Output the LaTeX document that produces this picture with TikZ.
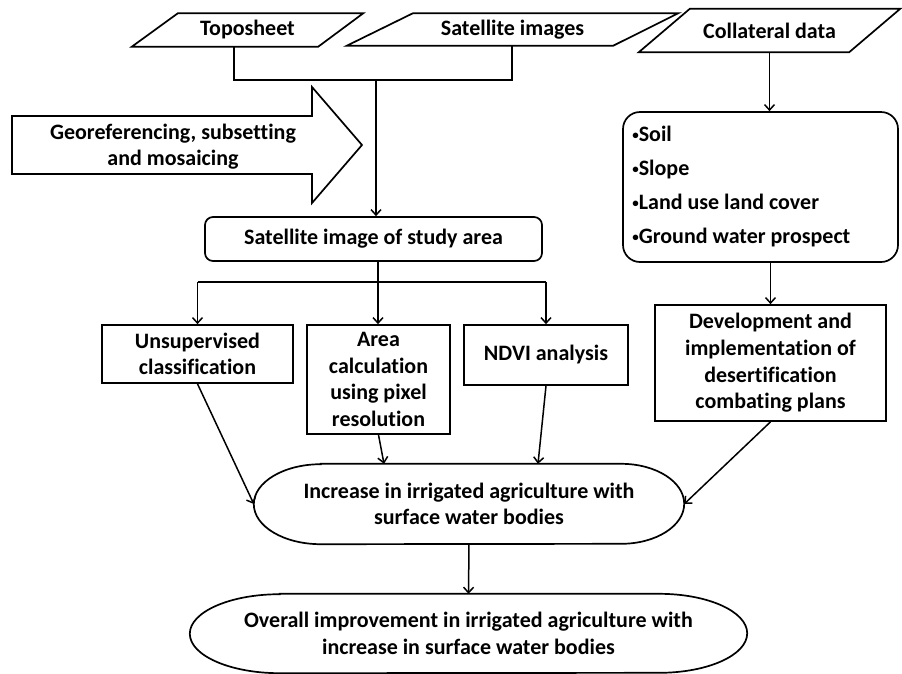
\documentclass[tikz,border=0pt]{standalone}
\usepackage{fontspec}
\setmainfont{Carlito}[Ligatures=NoCommon]
\usetikzlibrary{arrows.meta}
\newcommand{\lbul}{\raisebox{2.5pt}{\fontsize{13pt}{13pt}\selectfont •}}
\begin{document}
\begin{tikzpicture}[x=1pt,y=-1pt,
  every node/.style={font=\bfseries\fontsize{22pt}{26.7pt}\selectfont, align=center, text=black},
  box/.style={draw, line width=1.7pt, inner sep=0pt},
  rbox/.style={box, rounded corners=8pt},
  plain/.style={inner sep=0pt},
  shapeline/.style={draw, line width=1.7pt, line join=miter},
  conn/.style={line width=1.5pt},
  arr/.style={conn, -{Straight Barb[length=5.5pt,width=10pt]}}]
\fill[white] (0,0) rectangle (902,673);
\useasboundingbox (0,0) rectangle (902,673);

% top inputs
\node[plain, minimum width=231pt, minimum height=33pt] (topo) at (247.5,30) {Toposheet};
\draw[shapeline] ([xshift=46pt]topo.north west) -- (topo.north east) -- ([xshift=-45pt]topo.south east) -- (topo.south west) -- cycle;
\node[plain, minimum width=331pt, minimum height=32pt] (sat) at (512.5,29.5) {Satellite images};
\draw[shapeline] ([xshift=66pt]sat.north west) -- (sat.north east) -- ([xshift=-65pt]sat.south east) -- (sat.south west) -- cycle;
\node[plain, minimum width=261pt, minimum height=43pt] (coll) at (769.5,30.5) {Collateral data};
\draw[shapeline] ([xshift=51pt]coll.north west) -- (coll.north east) -- ([xshift=-51pt]coll.south east) -- (coll.south west) -- cycle;

% big arrow
\draw[shapeline] (12,116) -- (312,116) -- (312,87) -- (362,145) -- (312,203) -- (312,174) -- (12,174) -- cycle;
\node[plain] (geo) at (173,146.5) {Georeferencing, subsetting\\and mosaicing};

% boxes
\node[rbox, minimum width=337pt, minimum height=44pt] (study) at (373.5,239) {Satellite image of study area};
\node[box, minimum width=191pt, minimum height=58pt] (unsup) at (197.5,354) {Unsupervised\\classification};
\node[box, minimum width=143pt, minimum height=109pt] (area) at (378.5,379.5) {Area\\calculation\\using pixel\\resolution};
\node[box, minimum width=164pt, minimum height=60pt] (ndvi) at (546,355) {NDVI analysis};
\node[box, rounded corners=17pt, minimum width=275pt, minimum height=150pt] (list) at (760.5,187) {};
\node[plain, anchor=west, align=left, font=\bfseries\fontsize{22pt}{34pt}\selectfont] (listtxt) at ([xshift=10pt]list.west)
      {\lbul Soil\\\lbul Slope\\\lbul Land use land cover\\\lbul Ground water prospect};
\node[box, minimum width=231pt, minimum height=116pt] (dev) at (770.5,363) {Development and\\implementation of\\desertification\\combating plans};

% outcome shapes
\node[plain, minimum width=430pt, minimum height=80pt] (inc) at (469,504) {Increase in irrigated agriculture with\\surface water bodies};
\draw[shapeline] ([xshift=67pt]inc.north west) -- ([xshift=-63pt]inc.north east)
  arc[start angle=90,end angle=-90,x radius=63pt,y radius=40pt]
  -- ([xshift=67pt]inc.south west)
  arc[start angle=270,end angle=90,x radius=67pt,y radius=40pt] -- cycle;
\node[plain, minimum width=557pt, minimum height=79pt] (over) at (468.5,633.5) {Overall improvement in irrigated agriculture with\\increase in surface water bodies};
\draw[shapeline] ([xshift=90pt]over.north west) -- ([xshift=-88pt]over.north east)
  arc[start angle=90,end angle=-90,x radius=88pt,y radius=39.5pt]
  -- ([xshift=90pt]over.south west)
  arc[start angle=270,end angle=90,x radius=90pt,y radius=39.5pt] -- cycle;

% connectors
\coordinate (tj) at (234,80);
\coordinate (sj) at (512,80);
\coordinate (mj) at (376,80);
\draw[conn] (tj |- topo.south) -- (tj) -- (sj) -- (sj |- sat.south);
\draw[arr] (mj) -- (mj |- study.north);
\draw[arr] (coll.south) -- (coll.south |- list.north);
\draw[arr] (dev.north |- list.south) -- (dev.north);

\coordinate (sp) at (378,282);
\draw[conn] (sp |- study.south) -- (sp);
\draw[conn] (sp -| unsup.north) -- (sp -| ndvi.north);
\draw[arr] (sp -| unsup.north) -- (unsup.north);
\draw[arr] (sp) -- (sp |- area.north);
\draw[arr] (sp -| ndvi.north) -- (ndvi.north);

\draw[arr] (unsup.south) -- (inc.west);
\draw[arr] (area.south) -- ([xshift=-85pt]inc.north);
\draw[arr] (ndvi.south) -- ([xshift=69pt]inc.north);
\draw[arr] (dev.south) -- (inc.east);
\draw[arr] (inc.south) -- (over.north);
\end{tikzpicture}
\end{document}
